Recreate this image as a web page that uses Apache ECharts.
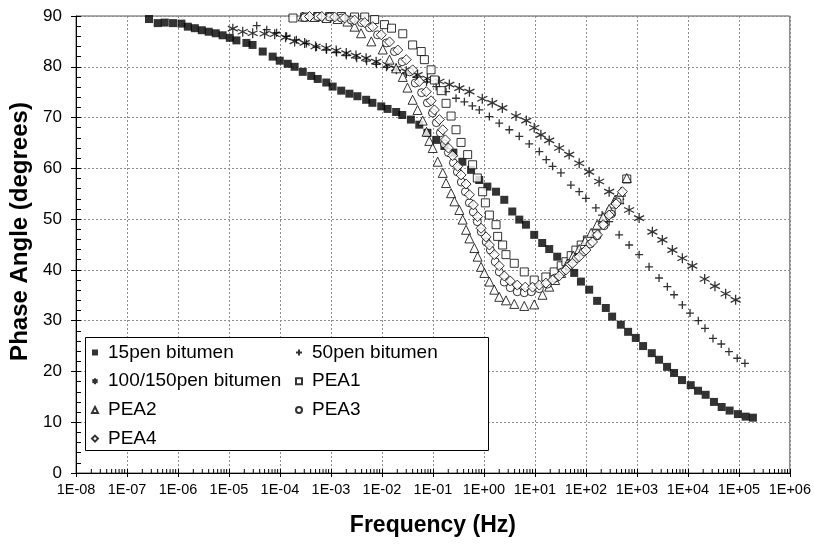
<!DOCTYPE html>
<html><head><meta charset="utf-8">
<script src="https://cdn.jsdelivr.net/npm/echarts@6/dist/echarts.min.js"></script>
<style>html,body{margin:0;padding:0;background:#fff}#c{width:814px;height:545px}</style>
</head><body><div id="c"></div>
<script>
// ---------- data (frequency in Hz, phase angle in degrees) ----------
const xTickLabels = ['1E-08','1E-07','1E-06','1E-05','1E-04','1E-03','1E-02','1E-01','1E+00','1E+01','1E+02','1E+03','1E+04','1E+05','1E+06'];
const minorMultipliers = [2,3,4,5,6,7,8,9];

const pen15Freq = [2.7e-7,4.0e-7,5.5e-7,8.0e-7,1.17e-6,1.56e-6,2.14e-6,2.93e-6,4.0e-6,5.5e-6,7.5e-6,1.04e-5,1.4e-5,2.2e-5,2.9e-5,4.6e-5,7.2e-5,9.9e-5,1.42e-4,1.94e-4,2.8e-4,4.1e-4,5.5e-4,8.1e-4,1.08e-3,1.59e-3,2.3e-3,3.3e-3,4.9e-3,6.5e-3,9.7e-3,1.29e-2,1.9e-2,2.5e-2,3.7e-2,5.4e-2,7.8e-2,0.116,0.168,0.252,0.378,0.56,0.81,1.17,1.73,2.51,3.6,4.94,6.68,9.7,13.9,19.1,27.4,40.6,59,80,116,166,246,327,484,673,953,1324,1960,2722,3908,5358,7674,11376,15812,22336,32510,46030,65900,95940,135800,188800];
const pen15Phase = [89.4,88.6,88.7,88.6,88.5,87.9,87.6,87.2,86.9,86.6,86.2,85.7,85.2,84.7,84.3,83.0,82.0,81.2,80.6,80.0,79.0,78.2,77.6,76.9,76.1,75.3,74.7,74.2,73.5,72.9,72.2,71.7,71.1,70.5,69.6,68.6,67.0,65.6,64.4,63.1,61.3,59.7,57.7,56.4,55.4,53.8,51.5,49.9,48.9,46.9,45.3,44.1,42.6,40.6,39.4,37.7,36.1,33.9,32.5,30.8,29.2,27.8,26.6,25.0,23.6,22.3,20.9,19.7,18.3,17.3,16.2,15.4,14.0,13.0,12.3,11.6,11.1,10.9];

const pen50Freq = [3.5e-5,5.5e-5,8.6e-5,1.35e-4,2.1e-4,3.3e-4,5.2e-4,8.2e-4,1.29e-3,2.0e-3,3.2e-3,5.0e-3,7.8e-3,1.23e-2,1.93e-2,3.0e-2,4.75e-2,7.5e-2,0.116,0.181,0.284,0.414,0.593,0.813,1.28,2.0,3.15,4.94,7.74,12.2,16.7,22.2,32.4,50.8,74,100,157,208,286,449,705,1107,1734,2722,3963,5358,7800,11020,16030,21680,31120,45190,63970,92900,131500];
const pen50Phase = [88.1,87.3,86.7,86.0,85.3,84.6,83.9,83.3,82.8,82.2,81.7,81.1,80.5,79.9,79.3,78.6,77.9,77.0,76.1,75.1,73.8,73.1,72.3,71.5,70.2,68.9,67.6,66.3,64.8,63.3,61.7,60.4,59.1,56.7,55.4,54.1,52.2,50.8,49.5,46.9,44.9,43.0,40.6,38.4,36.7,35.1,33.1,31.5,30.0,28.5,26.5,25.4,23.9,22.6,21.6];

const pen100Freq = [1.19e-5,1.86e-5,2.92e-5,5.0e-5,7.9e-5,1.29e-4,1.94e-4,3.05e-4,5.0e-4,8.1e-4,1.27e-3,2.0e-3,3.1e-3,4.9e-3,7.7e-3,1.29e-2,1.9e-2,3.0e-2,5.0e-2,7.8e-2,0.134,0.21,0.33,0.52,0.93,1.46,2.30,4.26,6.78,9.7,13.1,19.1,30,47,74,116,182,286,449,705,1107,2014,3162,4966,7800,12220,21380,33960,55080,86500];
const pen100Phase = [87.5,86.9,86.6,86.5,86.4,85.8,85.0,84.7,84.0,83.7,83.2,82.7,82.2,81.7,81.0,80.4,79.7,79.1,78.4,77.7,77.1,76.5,75.8,75.1,73.7,72.9,71.9,70.3,69.4,68.0,66.6,65.5,64.0,62.7,61.0,59.3,57.4,55.4,53.5,51.8,50.2,47.5,45.9,43.9,42.3,40.8,38.2,36.8,35.3,34.1];

const pea1Freq = [1.8e-4,3.05e-4,5.5e-4,9.4e-4,1.6e-3,2.9e-3,4.6e-3,7.2e-3,1.12e-2,1.54e-2,2.56e-2,4.0e-2,5.9e-2,6.8e-2,9.2e-2,0.107,0.145,0.181,0.227,0.284,0.356,0.48,0.60,0.743,0.944,1.07,1.28,1.73,1.86,2.33,2.71,3.94,6.19,9.7,16.4,23.9,32.8,40.6,51.5,63.7,80.9,107,157,218,313,449,634];
const pea1Phase = [89.6,89.8,89.9,89.9,89.9,89.8,89.8,89.3,88.3,87.6,86.5,84.3,83.0,81.4,79.4,77.4,75.3,72.8,70.3,67.6,65.1,62.7,60.7,58.1,55.4,53.2,50.8,48.9,46.6,44.9,43.0,41.3,39.6,38.0,38.6,39.6,40.8,41.6,42.8,43.9,44.9,45.9,47.1,49.1,51.4,53.8,57.9];

const pea2Freq = [2.8e-4,4.8e-4,8.2e-4,1.35e-3,2.1e-3,2.9e-3,3.9e-3,6.2e-3,1.04e-2,1.41e-2,1.9e-2,2.56e-2,3.17e-2,4.0e-2,5.0e-2,6.3e-2,7.5e-2,8.5e-2,9.9e-2,0.124,0.156,0.181,0.227,0.264,0.330,0.383,0.447,0.519,0.65,0.753,0.879,1.02,1.28,1.60,2.0,2.71,3.94,6.19,9.7,14.1,19.1,25.0,32.8,43.0,56.4,74,96.8,127,166,218,286,374,491,634];
const pea2Phase = [89.9,89.8,89.6,89.4,88.9,87.9,86.6,85.0,83.4,81.4,79.7,78.0,75.9,73.5,71.5,69.4,67.2,65.4,64.0,61.3,59.1,57.1,55.1,53.5,51.8,49.9,47.9,46.2,44.3,42.6,40.6,39.4,37.7,36.1,34.7,34.0,33.3,32.9,33.2,35.1,36.7,38.0,39.4,41.2,42.8,44.1,45.7,47.3,48.9,50.4,52.0,53.8,55.4,58.1];

const pea3Freq = [3.05e-4,5.5e-4,9.4e-4,1.6e-3,2.5e-3,3.98e-3,5.7e-3,8.2e-3,1.23e-2,1.76e-2,2.5e-2,3.5e-2,4.5e-2,6.0e-2,7.8e-2,9.8e-2,0.117,0.140,0.168,0.201,0.252,0.302,0.361,0.434,0.519,0.621,0.743,0.889,1.11,1.34,1.67,2.0,2.51,3.29,4.51,6.19,8.49,12.2,17.5,25.0,34.4,47,64.6,88.5,121,166,228,313,410];
const pea3Phase = [89.7,89.9,89.8,89.6,89.2,88.7,87.7,86.3,84.7,83.0,81.0,79.0,76.8,74.9,72.9,70.9,69.0,67.0,64.8,63.1,61.1,59.3,57.3,55.4,53.2,51.4,49.5,47.5,45.5,43.9,41.6,39.6,37.6,36.5,35.7,35.5,35.7,36.3,37.2,38.4,39.6,40.8,42.2,43.5,45.1,46.7,48.7,51.0,53.4];

const pea4Freq = [3.8e-4,6.6e-4,1.18e-3,1.85e-3,2.9e-3,4.6e-3,6.6e-3,9.7e-3,1.41e-2,2.05e-2,3.0e-2,4.0e-2,5.4e-2,7.4e-2,9.2e-2,0.107,0.134,0.156,0.176,0.201,0.244,0.306,0.356,0.447,0.519,0.621,0.753,0.879,1.10,1.28,1.60,2.0,2.51,3.29,4.51,6.47,9.0,12.2,16.4,22.2,30,40.6,54.6,74,100,135,169,218,286,392,520];
const pea4Phase = [89.9,89.9,89.8,89.6,89.2,88.7,87.9,86.3,84.9,83.3,81.4,79.4,77.1,75.1,73.3,71.5,69.6,67.6,65.6,64.0,62.5,60.4,58.7,56.9,54.8,52.8,50.5,48.2,46.5,44.9,43.0,40.8,38.8,37.8,37.0,36.6,36.6,37.0,37.4,38.0,38.8,40.0,41.3,42.6,43.9,45.5,46.9,48.9,50.8,53.0,55.4];

const seriesNames = ['15pen bitumen','50pen bitumen','100/150pen bitumen','PEA1','PEA2','PEA3','PEA4'];
const legendLeftColumn = ['15pen bitumen','100/150pen bitumen','PEA2','PEA4'];
const legendRightColumn = ['50pen bitumen','PEA1','PEA3'];

// ---------- build ----------
const zip = (xs, ys) => xs.map((x, i) => [x, ys[i]]);
const FONT = "'Liberation Sans', Arial, sans-serif";
const PLUS = 'path://M5,0L5,10M0,5L10,5';
const STAR = 'path://M5,0L5,10M0.67,2.5L9.33,7.5M0.67,7.5L9.33,2.5';

const decades = xTickLabels.slice(0, -1).map(l => Number(l));
const minorTickFreqs = [];
decades.forEach(d => minorMultipliers.forEach(m => minorTickFreqs.push([d * m, 0])));

const openStyle = { color: '#fff', borderColor: '#000', borderWidth: 1 };
const strokeStyle = { color: 'rgba(0,0,0,0)', borderColor: '#000', borderWidth: 1.3 };

function sc(name, data, symbol, size, style) {
  return { name, type: 'scatter', data, symbol, symbolSize: size, itemStyle: style,
           xAxisIndex: 0, yAxisIndex: 0, emphasis: { disabled: true }, animation: false };
}

const series = [
  sc(seriesNames[0], zip(pen15Freq, pen15Phase), 'rect', 8, { color: '#000' }),
  sc(seriesNames[1], zip(pen50Freq, pen50Phase), PLUS, 8, strokeStyle),
  sc(seriesNames[2], zip(pen100Freq, pen100Phase), STAR, 10, strokeStyle),
  sc(seriesNames[3], zip(pea1Freq, pea1Phase), 'rect', 8, openStyle),
  sc(seriesNames[4], zip(pea2Freq, pea2Phase), 'triangle', 9, openStyle),
  sc(seriesNames[5], zip(pea3Freq, pea3Phase), 'circle', 8, openStyle),
  sc(seriesNames[6], zip(pea4Freq, pea4Phase), 'diamond', 10, openStyle),
  { type: 'custom', xAxisIndex: 0, yAxisIndex: 0, silent: true, animation: false, z: 5,
    data: minorTickFreqs,
    renderItem: (params, api) => {
      const p = api.coord([api.value(0), api.value(1)]);
      return { type: 'line', shape: { x1: p[0], y1: p[1], x2: p[0], y2: p[1] - 4 },
               style: { stroke: '#000', lineWidth: 1 } };
    } }
];

const gridLine = { show: true, lineStyle: { color: '#8c8c8c', width: 1, type: [2, 2] } };
const legendBase = { orient: 'vertical', itemWidth: 6, itemHeight: 6, itemGap: 8.7, padding: 0,
  top: 342.5, selectedMode: false, z: 10,
  textStyle: { fontFamily: FONT, fontSize: 19, lineHeight: 20, color: '#000', padding: [0, 0, 0, 5] } };

const option = {
  backgroundColor: '#fff',
  animation: false,
  textStyle: { fontFamily: FONT },
  grid: { left: 76, right: 23, top: 16, bottom: 72, show: true, borderColor: '#555', borderWidth: 1 },
  xAxis: [
    { type: 'log', logBase: 10, min: 1e-8, max: 1e6, interval: 1, splitNumber: 14,
      axisLine: { lineStyle: { color: '#000', width: 1 } },
      axisTick: { show: true, length: 4, lineStyle: { color: '#000' } },
      axisLabel: { margin: 9, color: '#000', fontSize: 14.5, fontFamily: FONT,
        formatter: v => xTickLabels[Math.round(Math.log10(v)) + 8] },
      splitLine: gridLine,
      name: 'Frequency (Hz)', nameLocation: 'middle', nameGap: 41,
      nameTextStyle: { fontSize: 23, fontWeight: 'bold', color: '#000', fontFamily: FONT } },
    { type: 'log', logBase: 10, min: 1e-8, max: 1e6, interval: 1, splitNumber: 14, position: 'bottom',
      axisLine: { show: false }, axisLabel: { show: false }, splitLine: { show: false },
      axisTick: { show: true, inside: true, length: 4, lineStyle: { color: '#000' } } }
  ],
  yAxis: [
    { type: 'value', min: 0, max: 90, interval: 10,
      axisLine: { show: true, lineStyle: { color: '#000', width: 1 } },
      axisTick: { show: true, length: 5, lineStyle: { color: '#000' } },
      axisLabel: { margin: 14, color: '#000', fontSize: 17, fontFamily: FONT },
      splitLine: gridLine,
      name: 'Phase Angle (degrees)', nameLocation: 'middle', nameGap: 41,
      nameTextStyle: { fontSize: 24, fontWeight: 'bold', color: '#000', fontFamily: FONT,
                       padding: [0, 0, 0, 26] } },
    { type: 'value', min: 0, max: 90, interval: 10, position: 'left',
      axisLine: { show: false }, axisLabel: { show: false }, splitLine: { show: false },
      axisTick: { show: true, inside: true, length: 5, lineStyle: { color: '#000' } },
      minorTick: { show: true, splitNumber: 5, length: 5, lineStyle: { color: '#000' } } }
  ],
  legend: [
    Object.assign({}, legendBase, { left: 91, data: legendLeftColumn }),
    Object.assign({}, legendBase, { left: 295, data: legendRightColumn })
  ],
  graphic: [
    { type: 'rect', left: 85, top: 337, z: 3, silent: true,
      shape: { width: 403, height: 113 }, style: { fill: '#fff', stroke: '#000', lineWidth: 1 } }
  ],
  series
};

const chart = echarts.init(document.getElementById('c'), null, { renderer: 'canvas' });
chart.setOption(option);
</script>
</body></html>
